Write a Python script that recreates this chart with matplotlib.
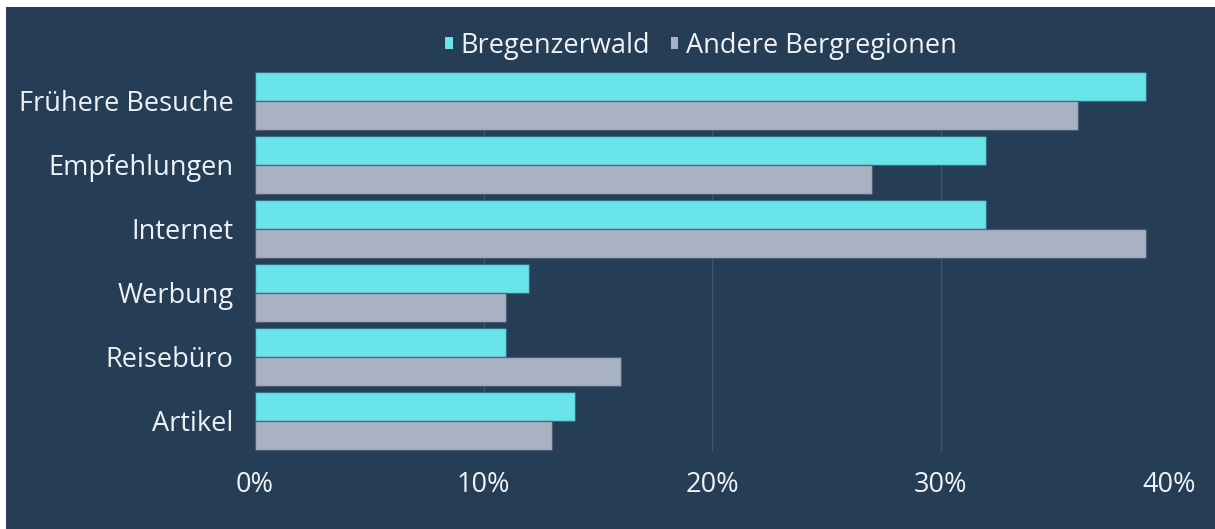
import matplotlib
matplotlib.use("Agg")
import matplotlib.pyplot as plt
import numpy as np
from matplotlib.patches import Rectangle

categories = ["Frühere Besuche", "Empfehlungen", "Internet", "Werbung", "Reisebüro", "Artikel"]
bregenzerwald = [39, 32, 32, 12, 11, 14]
andere = [36, 27, 39, 11, 16, 13]
series_names = ["Bregenzerwald", "Andere Bergregionen"]
xticks = [0, 10, 20, 30, 40]

NAVY = "#253d55"
CYAN = "#69e4e9"
GREY = "#a8b2c3"
TEXT = "#eef2f5"

plt.rcParams["font.family"] = ["Open Sans", "DejaVu Sans"]

fig = plt.figure(figsize=(12.15, 5.29), dpi=100, facecolor="white")
# navy panel, white strip on top and left
fig.patches.append(Rectangle((6 / 1215, 0), 1, 1 - 7 / 529, transform=fig.transFigure,
                             facecolor=NAVY, edgecolor="none", zorder=-10))

ax = fig.add_axes([255 / 1215, 1 - 453 / 529, 914 / 1215, 384 / 529])
ax.set_facecolor("none")

y = np.arange(len(categories))
h = 0.453
ax.barh(y - h / 2, bregenzerwald, height=h, color=CYAN, edgecolor=(0.15, 0.35, 0.42, 0.6),
        linewidth=1, label=series_names[0], zorder=3)
ax.barh(y + h / 2, andere, height=h, color=GREY, edgecolor=(0.25, 0.3, 0.4, 0.6),
        linewidth=1, label=series_names[1], zorder=3)

ax.set_ylim(len(categories) - 0.5, -0.5)
ax.set_xlim(0, 40)
ax.set_yticks(y)
ax.set_yticklabels(categories)
ax.set_xticks(xticks)
ax.set_xticklabels([f"{t}%" for t in xticks])
ax.tick_params(axis="both", length=0, colors=TEXT, labelsize=19.5)
ax.tick_params(axis="y", pad=15.5)
ax.tick_params(axis="x", pad=13)

for t in xticks[1:]:
    ax.axvline(t, ymin=0.008, ymax=0.992, color="#3d566e", linewidth=1, zorder=1)
for s in ax.spines.values():
    s.set_visible(False)

leg = fig.legend(loc="center", bbox_to_anchor=(701 / 1215, 1 - 46 / 529), ncol=2,
                 frameon=False, fontsize=19.5, labelcolor=TEXT, handlelength=0.28,
                 handleheight=0.28, handletextpad=0.28, columnspacing=0.75)
for hnd in leg.legend_handles:
    hnd.set_edgecolor("none")

fig.savefig("out.png", dpi=100, facecolor="white")
